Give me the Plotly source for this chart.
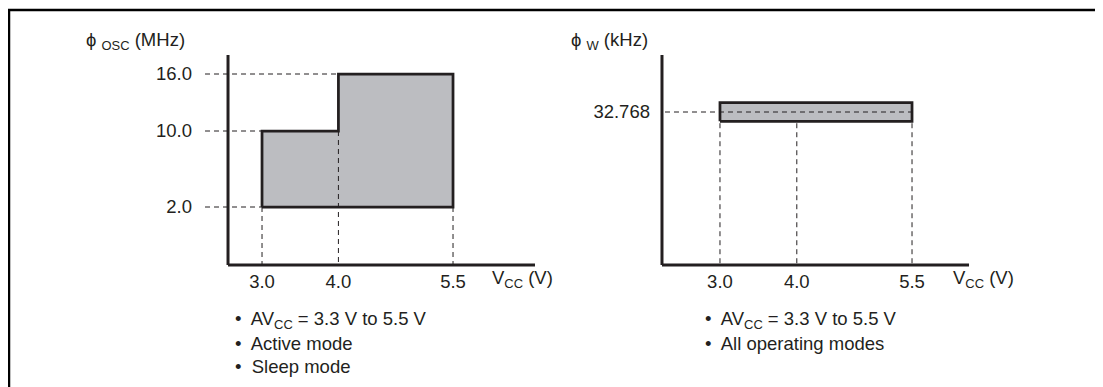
import plotly.graph_objects as go

# --- data ---
vcc_ticks = [3.0, 4.0, 5.5]
vcc_tick_text = ["3.0", "4.0", "5.5"]

# system clock (phi OSC) operating range
osc_vcc = [3.0, 3.0, 4.0, 4.0, 5.5, 5.5, 3.0]
osc_mhz = [2.0, 10.0, 10.0, 16.0, 16.0, 2.0, 2.0]
osc_ticks = [2.0, 10.0, 16.0]
osc_tick_text = ["2.0", "10.0", "16.0"]

# subclock (phi W) operating range
sub_vcc = [3.0, 5.5]
sub_khz = 32.768
sub_tick_text = ["32.768"]

notes_left = ["•  AV<sub>CC</sub> = 3.3 V to 5.5 V", "•  Active mode", "•  Sleep mode"]
notes_right = ["•  AV<sub>CC</sub> = 3.3 V to 5.5 V", "•  All operating modes"]

# --- layout helpers ---
# the page body has an 8px margin, so the figure is drawn 8px in from the window corner
OFF = 8
W, H = 1103 - OFF, 387 - OFF
INK = "#231f20"
FILL = "#bcbdc1"
FONT = dict(family="Liberation Sans, Arial, sans-serif", size=18.5, color=INK)


def fx(px):
    return (px - OFF) / W


def fy(py):
    return 1 - (py - OFF) / H


fig = go.Figure()

# left panel: stepped region
fig.add_trace(go.Scatter(
    x=osc_vcc, y=osc_mhz, mode="lines", fill="toself",
    fillcolor=FILL, line=dict(color=INK, width=2.75),
    xaxis="x", yaxis="y", hoverinfo="skip", showlegend=False,
))

# right panel: narrow band around 32.768 kHz
band = 2.0
bx = [sub_vcc[0], sub_vcc[0], sub_vcc[1], sub_vcc[1], sub_vcc[0]]
by = [sub_khz - band, sub_khz + band, sub_khz + band, sub_khz - band, sub_khz - band]
fig.add_trace(go.Scatter(
    x=bx, y=by, mode="lines", fill="toself",
    fillcolor=FILL, line=dict(color=INK, width=2.75),
    xaxis="x2", yaxis="y2", hoverinfo="skip", showlegend=False,
))

shapes = []
dash = dict(color=INK, width=1, dash="5px,4px")
axis_line = dict(color=INK, width=3)

# left axes
lx0, ly0, lx1, ly1 = 2.555, -4.105, 6.573, 18.0
shapes.append(dict(type="line", xref="x", yref="y", x0=lx0, x1=lx0, y0=ly0, y1=ly1, line=axis_line))
shapes.append(dict(type="line", xref="x", yref="y", x0=lx0, x1=lx1, y0=ly0, y1=ly0, line=axis_line))
ldash = 2.254
# horizontal guides
shapes.append(dict(type="line", xref="x", yref="y", x0=ldash, x1=osc_vcc[2], y0=osc_mhz[3], y1=osc_mhz[3], line=dash))
shapes.append(dict(type="line", xref="x", yref="y", x0=ldash, x1=osc_vcc[0], y0=osc_mhz[1], y1=osc_mhz[1], line=dash))
shapes.append(dict(type="line", xref="x", yref="y", x0=ldash, x1=osc_vcc[0], y0=osc_mhz[0], y1=osc_mhz[0], line=dash))
# vertical guides
shapes.append(dict(type="line", xref="x", yref="y", x0=vcc_ticks[0], x1=vcc_ticks[0], y0=osc_mhz[0], y1=ly0, line=dash))
shapes.append(dict(type="line", xref="x", yref="y", x0=vcc_ticks[1], x1=vcc_ticks[1], y0=osc_mhz[1], y1=ly0, line=dash))
shapes.append(dict(type="line", xref="x", yref="y", x0=vcc_ticks[2], x1=vcc_ticks[2], y0=osc_mhz[0], y1=ly0, line=dash))

# right axes
rx0, ry0, rx1, ry1 = 2.245, 0.0, 6.242, 44.98
shapes.append(dict(type="line", xref="x2", yref="y2", x0=rx0, x1=rx0, y0=ry0, y1=ry1, line=axis_line))
shapes.append(dict(type="line", xref="x2", yref="y2", x0=rx0, x1=rx1, y0=ry0, y1=ry0, line=axis_line))
shapes.append(dict(type="line", xref="x2", yref="y2", x0=2.284, x1=sub_vcc[1], y0=sub_khz, y1=sub_khz, line=dash))
for v in vcc_ticks:
    shapes.append(dict(type="line", xref="x2", yref="y2", x0=v, x1=v, y0=sub_khz - band - 0.4, y1=ry0, line=dash))

# outer frame
shapes.append(dict(type="rect", xref="paper", yref="paper", x0=fx(9), x1=fx(1099), y0=-0.1, y1=fy(10),
                   line=dict(color="black", width=2.5), layer="below"))

annotations = [
    dict(text="ϕ <sub>OSC</sub> (MHz)", x=fx(84), y=fy(41), xanchor="left"),
    dict(text="V<sub>CC</sub> (V)", x=fx(490), y=fy(279), xanchor="left"),
    dict(text="ϕ <sub>W</sub> (kHz)", x=fx(569), y=fy(41), xanchor="left"),
    dict(text="V<sub>CC</sub> (V)", x=fx(951), y=fy(279), xanchor="left"),
]
for i, t in enumerate(notes_left):
    annotations.append(dict(text=t, x=fx(233), y=fy(320 + 23 * i), xanchor="left"))
for i, t in enumerate(notes_right):
    annotations.append(dict(text=t, x=fx(703), y=fy(320 + 23 * i), xanchor="left"))
for a in annotations:
    a.update(xref="paper", yref="paper", yanchor="middle", showarrow=False, font=FONT)

common = dict(showgrid=False, zeroline=False, showline=False, ticks="", tickfont=FONT, fixedrange=True)

fig.update_layout(
    width=W, height=H, autosize=False,
    margin=dict(l=0, r=0, t=0, b=0),
    paper_bgcolor="white", plot_bgcolor="rgba(0,0,0,0)",
    xaxis=dict(domain=[fx(198), fx(545)], range=[2.162, 6.704], anchor="y",
               tickvals=vcc_ticks, ticktext=vcc_tick_text, **common),
    yaxis=dict(domain=[fy(268), fy(50)], range=[-4.421, 18.526], anchor="x",
               tickvals=osc_ticks, ticktext=osc_tick_text, ticklabelstandoff=5, **common),
    xaxis2=dict(domain=[fx(655), fx(980)], range=[2.154, 6.385], anchor="y2",
                tickvals=vcc_ticks, ticktext=vcc_tick_text, **common),
    yaxis2=dict(domain=[fy(268), fy(50)], range=[-0.6425, 46.05], anchor="x2",
                tickvals=[sub_khz], ticktext=sub_tick_text, ticklabelstandoff=4, **common),
    shapes=shapes,
    annotations=annotations,
    showlegend=False,
    font=FONT,
)

fig.write_html("out.html")
